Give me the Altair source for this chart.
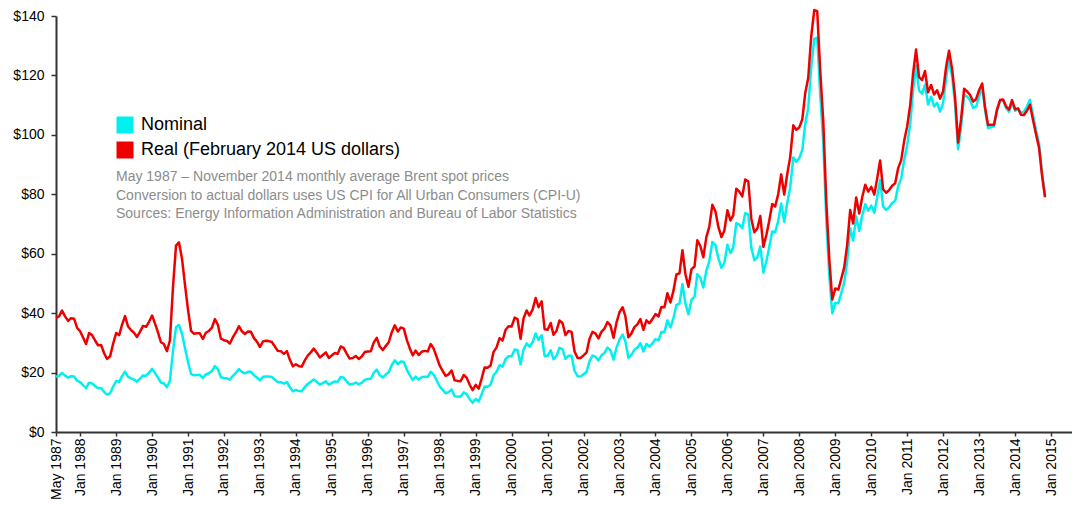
"""
Brent crude monthly spot price, nominal vs. real (Feb 2014 dollars), May 1987 - Nov 2014.
Outputs: out.html
"""

import pandas as pd
import altair as alt

FIRST_MONTH = "1987-05-01"
SERIES = ["Nominal", "Real (February 2014 US dollars)"]
COLORS = ["#00f0f0", "#ee0000"]

# monthly average Brent spot price, US$ per barrel (one row per year)
NOMINAL = [
    18.58, 18.86, 19.86, 18.98, 18.31, 18.76, 18.70, 17.27,  # 1987 (May-Dec)
    16.75, 15.73, 14.73, 16.60, 16.31, 15.49, 14.71, 14.84, 13.44, 12.56, 13.04, 15.24,
    17.17, 16.89, 18.70, 20.32, 18.63, 18.03, 17.62, 16.95, 17.97, 19.05, 18.96, 19.94,
    21.25, 19.81, 18.39, 16.61, 16.35, 15.10, 17.17, 27.17, 35.23, 36.02, 33.07, 28.27,
    23.57, 19.54, 19.08, 19.18, 19.19, 18.17, 19.40, 19.77, 20.50, 22.21, 21.11, 18.41,
    18.16, 18.05, 17.63, 18.92, 19.89, 21.16, 20.25, 19.74, 20.27, 20.26, 19.05, 18.34,
    17.40, 18.57, 18.71, 18.69, 18.53, 17.66, 16.77, 16.75, 16.26, 16.83, 15.06, 13.75,
    14.18, 13.78, 13.73, 15.11, 16.16, 16.89, 17.71, 16.87, 15.93, 16.44, 17.04, 15.89,
    16.54, 17.04, 16.87, 18.54, 18.27, 17.05, 15.96, 16.13, 16.66, 16.03, 16.58, 17.55,
    17.84, 17.93, 19.88, 20.98, 19.09, 18.39, 19.28, 20.18, 22.56, 24.11, 22.80, 23.76,
    23.56, 20.93, 19.23, 17.51, 18.63, 17.62, 18.46, 18.63, 18.57, 20.25, 19.21, 17.32,
    15.36, 14.12, 13.04, 13.40, 14.30, 12.07, 11.91, 11.86, 13.34, 12.75, 11.05, 9.82,
    11.12, 10.27, 12.51, 15.29, 15.23, 15.86, 19.08, 20.27, 22.54, 22.00, 24.58, 25.50,
    25.51, 27.78, 27.49, 22.76, 27.74, 29.80, 28.68, 30.20, 33.14, 30.96, 32.55, 25.66,
    25.62, 27.50, 24.50, 25.66, 28.31, 27.85, 24.61, 25.68, 25.62, 20.54, 18.80, 18.71,
    19.42, 20.28, 23.70, 25.73, 25.35, 24.08, 25.74, 26.65, 28.40, 27.54, 24.34, 28.33,
    31.18, 32.77, 30.61, 25.00, 25.86, 27.65, 28.35, 29.89, 27.11, 29.61, 28.75, 29.81,
    31.28, 30.86, 33.63, 33.59, 37.57, 35.18, 38.22, 42.74, 43.20, 49.78, 43.11, 39.60,
    44.51, 45.48, 53.10, 51.88, 48.65, 54.35, 57.52, 63.98, 62.91, 58.54, 55.24, 56.86,
    62.99, 60.21, 62.06, 70.26, 69.78, 68.56, 73.67, 73.23, 61.96, 57.81, 58.76, 62.47,
    53.68, 57.56, 62.05, 67.49, 67.21, 71.05, 76.93, 70.76, 77.17, 82.34, 92.41, 90.93,
    92.18, 94.99, 103.64, 109.07, 122.80, 132.32, 132.72, 113.24, 97.23, 71.58, 52.45, 39.95,
    43.44, 43.32, 46.54, 50.18, 57.30, 68.61, 64.44, 72.51, 67.65, 72.77, 76.66, 74.46,
    76.17, 73.75, 78.83, 84.82, 75.95, 74.76, 75.58, 77.04, 77.84, 82.67, 85.28, 91.45,
    96.52, 103.72, 114.64, 123.26, 114.99, 113.83, 116.97, 110.22, 112.83, 109.55, 110.77, 107.87,
    110.69, 119.33, 125.45, 119.75, 110.34, 95.16, 102.62, 113.36, 112.86, 111.71, 109.06, 109.49,
    112.96, 116.05, 108.47, 102.25, 102.56, 102.92, 107.93, 111.28, 111.60, 109.08, 107.79, 110.76,
    108.12, 108.90, 107.48, 107.76, 109.54, 111.80, 106.77, 101.61, 97.09, 87.43, 79.44,  # 2014 (Jan-Nov)
]

# same months in February 2014 dollars
REAL = [
    38.4, 38.9, 40.9, 38.9, 37.4, 38.3, 38.1, 35.1,  # 1987 (May-Dec)
    33.9, 31.7, 29.6, 33.3, 32.6, 30.8, 29.2, 29.3, 26.5, 24.6, 25.5, 29.7,
    33.3, 32.6, 36.0, 39.0, 35.6, 34.3, 33.4, 32.0, 33.8, 35.7, 35.4, 37.1,
    39.2, 36.4, 33.6, 30.2, 29.6, 27.2, 30.8, 48.6, 62.7, 63.8, 58.3, 49.6,
    41.1, 34.0, 33.1, 33.2, 33.2, 31.3, 33.4, 34.0, 35.1, 38.0, 36.0, 31.4,
    30.9, 30.6, 29.8, 31.9, 33.5, 35.6, 33.9, 33.0, 33.8, 33.7, 31.6, 30.4,
    28.6, 30.5, 30.7, 30.6, 30.3, 28.8, 27.3, 27.2, 26.3, 27.2, 24.3, 22.1,
    22.8, 22.1, 22.0, 24.1, 25.7, 26.8, 28.1, 26.7, 25.1, 25.9, 26.8, 24.9,
    25.8, 26.6, 26.3, 28.8, 28.3, 26.4, 24.7, 24.9, 25.6, 24.6, 25.4, 26.9,
    27.1, 27.2, 30.1, 31.7, 28.8, 27.6, 28.9, 30.2, 33.6, 35.9, 33.8, 35.2,
    34.8, 30.9, 28.3, 25.8, 27.4, 25.9, 27.0, 27.3, 27.1, 29.6, 28.0, 25.2,
    22.3, 20.5, 18.9, 19.4, 20.7, 17.4, 17.2, 17.1, 19.2, 18.3, 15.9, 14.1,
    15.9, 14.6, 17.8, 21.7, 21.6, 22.4, 26.9, 28.5, 31.6, 30.8, 34.4, 35.6,
    35.5, 38.5, 38.0, 31.4, 38.2, 40.9, 39.2, 41.2, 45.1, 42.0, 44.0, 34.6,
    34.4, 36.7, 32.7, 34.1, 37.5, 36.7, 32.6, 34.0, 33.7, 27.1, 24.9, 24.9,
    25.8, 26.8, 31.2, 33.7, 33.2, 31.5, 33.7, 34.8, 37.0, 35.8, 31.7, 36.8,
    40.3, 42.0, 39.0, 31.9, 33.1, 35.3, 36.2, 38.0, 34.4, 37.6, 36.6, 38.0,
    39.7, 38.9, 42.1, 42.0, 46.7, 43.6, 47.4, 53.0, 53.4, 61.2, 53.0, 48.9,
    54.8, 55.7, 64.5, 62.6, 58.8, 65.6, 69.1, 76.5, 74.3, 69.0, 65.6, 67.8,
    74.6, 71.2, 72.9, 81.9, 80.9, 79.3, 85.0, 84.3, 71.7, 67.2, 68.5, 72.7,
    62.3, 66.4, 70.9, 76.7, 75.9, 80.1, 86.7, 79.9, 86.9, 92.6, 103.2, 101.7,
    102.5, 105.3, 114.0, 119.2, 133.1, 142.0, 141.6, 121.4, 104.3, 77.6, 58.0, 44.6,
    48.3, 47.9, 51.4, 55.3, 62.9, 74.7, 70.2, 78.9, 73.5, 79.0, 83.2, 80.9,
    82.5, 79.9, 85.1, 91.4, 81.7, 80.5, 81.4, 82.9, 83.7, 88.8, 91.5, 97.9,
    102.9, 110.1, 120.4, 128.7, 119.5, 118.4, 121.5, 114.3, 116.8, 113.6, 115.0, 112.2,
    114.7, 123.0, 128.3, 122.2, 112.8, 97.4, 105.2, 115.5, 114.6, 113.4, 111.2, 112.0,
    115.1, 117.3, 109.5, 103.3, 103.4, 103.4, 108.5, 111.7, 111.9, 109.6, 108.5, 111.7,
    108.6, 108.9, 106.8, 106.7, 108.1, 110.1, 105.2, 100.3, 95.7, 86.5, 79.0,  # 2014 (Jan-Nov)
]

NOTES = [
    "May 1987 \u2013 November 2014 monthly average Brent spot prices",
    "Conversion to actual dollars uses US CPI for All Urban Consumers (CPI-U)",
    "Sources: Energy Information Administration and Bureau of Labor Statistics",
]

Y_TICKS = [0, 20, 40, 60, 80, 100, 120, 140]
TICK_YEARS = list(range(1988, 2016))

FONT = "Liberation Sans"

# long table
months = pd.date_range(FIRST_MONTH, periods=len(NOMINAL), freq="MS").strftime("%Y-%m-%d")
df = pd.concat([
    pd.DataFrame({"date": months, "price": NOMINAL, "series": SERIES[0]}),
    pd.DataFrame({"date": months, "price": REAL, "series": SERIES[1]}),
])

color_scale = alt.Scale(domain=SERIES, range=COLORS)

x_values = [alt.DateTime(year=1987, month=5, date=1, utc=True)] + [
    alt.DateTime(year=y, month=1, date=1, utc=True) for y in TICK_YEARS
]

x_enc = alt.X(
    "date:T",
    title=None,
    scale=alt.Scale(
        domain=[alt.DateTime(year=1987, month=5, date=1, utc=True),
                alt.DateTime(year=2015, month=8, date=2, utc=True)],
        nice=False,
    ),
    axis=alt.Axis(
        values=x_values,
        labelExpr="utcFormat(datum.value, '%b %Y')",
        labelAngle=270,
        labelFlush=False,
        labelOverlap=False,
        labelPadding=2,
        tickSize=4,
        grid=False,
    ),
)

y_enc = alt.Y(
    "price:Q",
    title=None,
    scale=alt.Scale(domain=[0, 140], nice=False),
    axis=alt.Axis(
        values=Y_TICKS,
        labelExpr="'$' + datum.value",
        labelPadding=7,
        tickSize=5,
        grid=False,
    ),
)

base = alt.Chart(df)

nominal = base.transform_filter(alt.datum.series == SERIES[0]).mark_line(
    strokeWidth=2.5, strokeJoin="round"
).encode(x=x_enc, y=y_enc, color=alt.Color("series:N", scale=color_scale, legend=None))

real = base.transform_filter(alt.datum.series == SERIES[1]).mark_line(
    strokeWidth=2.5, strokeJoin="round"
).encode(x=x_enc, y=y_enc, color=alt.Color("series:N", scale=color_scale, legend=None))

# invisible squares only there to carry the filled-square legend
legend_layer = base.mark_square(opacity=0, size=4).encode(
    x=x_enc,
    y=y_enc,
    color=alt.Color(
        "series:N",
        scale=color_scale,
        legend=alt.Legend(
            title=None,
            orient="none",
            legendX=60,
            legendY=100,
            padding=0,
            symbolType="square",
            symbolSize=289,
            symbolOpacity=1,
            symbolStrokeWidth=0,
            labelFontSize=18,
            labelFont=FONT,
            labelColor="black",
            labelLimit=500,
            labelOffset=7,
            rowPadding=7,
        ),
    ),
)

notes = alt.Chart(alt.Data(values=[{}])).mark_text(
    text=NOTES,
    align="left",
    baseline="top",
    font=FONT,
    fontSize=14,
    lineHeight=18.5,
    color="#8c8c8c",
).encode(x=alt.value(60), y=alt.value(154))

# page is 1080 wide with 8px body margins: keep the svg within 1064 x 498
chart = (
    alt.layer(legend_layer, nominal, real, notes)
    .properties(
        width=1016,
        height=416,
        autosize=alt.AutoSizeParams(type="none"),
        padding={"left": 48, "top": 8, "right": 0, "bottom": 72},
        background="#ffffff",
    )
    .configure_view(strokeWidth=0)
    .configure_axis(
        labelFont=FONT,
        labelFontSize=14,
        labelColor="black",
        domainColor="#333333",
        domainWidth=2,
        tickColor="#333333",
        tickWidth=1.5,
    )
)

chart.save("out.html", embed_options={"renderer": "svg", "actions": False})
